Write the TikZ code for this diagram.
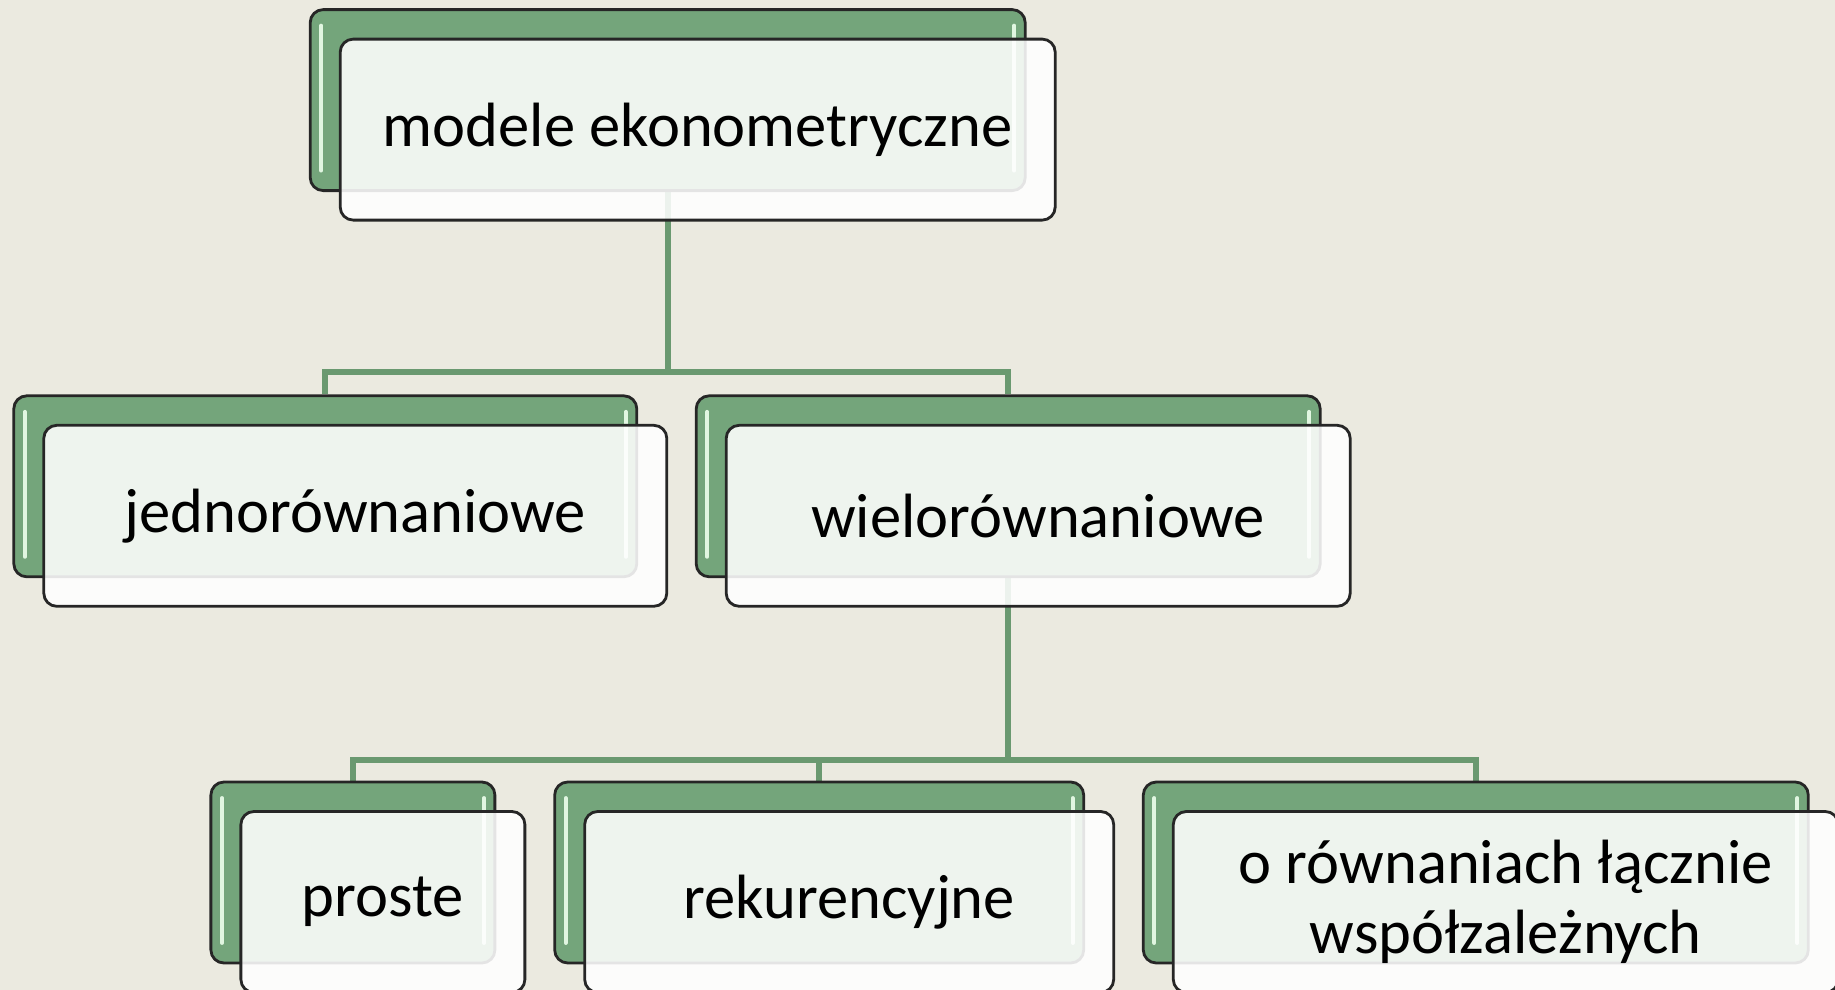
\documentclass[tikz,border=0pt]{standalone}
\usepackage{fontspec}
\setmainfont{Carlito}
\usetikzlibrary{positioning,calc}
\definecolor{tierBg}{RGB}{235,234,224}
\definecolor{tierGreen}{RGB}{116,165,123}
\definecolor{tierLine}{RGB}{106,153,112}
\definecolor{tierShine}{RGB}{225,246,225}
\pgfdeclarelayer{bg}
\pgfdeclarelayer{lines}
\pgfsetlayers{bg,lines,main}
\tikzset{
    tierBack/.style={
        rectangle,
        draw=black!85,
        line width=0.8pt,
        rounded corners=1.3mm,
        fill=tierGreen,
        minimum width=#1,
        minimum height=1.81cm,
        inner sep=0pt,
        path picture={
            \draw[tierShine, line width=1.1pt, line cap=round]
                ([xshift=1.1mm,yshift=-1.6mm]path picture bounding box.north west) --
                ([xshift=1.1mm,yshift=2mm]path picture bounding box.south west)
                ([xshift=-1.1mm,yshift=-1.6mm]path picture bounding box.north east) --
                ([xshift=-1.1mm,yshift=2mm]path picture bounding box.south east);
        }
    },
    tierFront/.style={
        rectangle,
        draw=black!85,
        line width=0.8pt,
        rounded corners=1.3mm,
        fill=white,
        fill opacity=0.88,
        text opacity=1,
        minimum width=#1,
        minimum height=1.81cm,
        inner sep=0pt,
        align=center,
        font=\fontsize{17.8}{20}\selectfont
    },
    tierLink/.style={draw=tierLine, line width=1.7pt}
}

\begin{document}
\begin{tikzpicture}
\useasboundingbox (0,0) rectangle (18.35,-9.90);
\begin{pgfonlayer}{bg}
\fill[tierBg] (0,0) rectangle (18.35,-9.90);
\end{pgfonlayer}

% root
\node[tierBack=7.15cm] (modeleG) at (6.677,-1.001) {};
\node[tierFront=7.15cm] (modele) at ([shift={(0.3,-0.295)}]modeleG) {modele ekonometryczne};

% second level
\node[tierBack=6.23cm] (jednoG) at (3.253,-4.863) {};
\node[tierFront=6.23cm] (jedno) at ([shift={(0.3,-0.295)}]jednoG) {jednorównaniowe};
\node[tierBack=6.24cm] (wieloG) at (10.082,-4.863) {};
\node[tierFront=6.24cm] (wielo) at ([shift={(0.3,-0.295)}]wieloG) {wielorównaniowe};

% third level
\node[tierBack=2.84cm] (prosteG) at (3.529,-8.725) {};
\node[tierFront=2.84cm] (proste) at ([shift={(0.3,-0.295)}]prosteG) {proste};
\node[tierBack=5.29cm] (rekurG) at (8.192,-8.725) {};
\node[tierFront=5.29cm] (rekur) at ([shift={(0.3,-0.295)}]rekurG) {rekurencyjne};
\node[tierBack=6.65cm] (laczG) at (14.758,-8.725) {};
\node[tierFront=6.65cm] (lacz) at ([shift={(0.3,-0.295)}]laczG) {o równaniach łącznie\\współzależnych};

% links
\begin{pgfonlayer}{lines}
\draw[tierLink] (modeleG.south) -- ++(0,-1.80) -| (jednoG.north);
\draw[tierLink] (modeleG.south) -- ++(0,-1.80) -| (wieloG.north);
\draw[tierLink] (wieloG.south) -- ++(0,-1.816) -| (prosteG.north);
\draw[tierLink] (wieloG.south) -- ++(0,-1.816) -| (rekurG.north);
\draw[tierLink] (wieloG.south) -- ++(0,-1.816) -| (laczG.north);
\end{pgfonlayer}
\end{tikzpicture}
\end{document}
